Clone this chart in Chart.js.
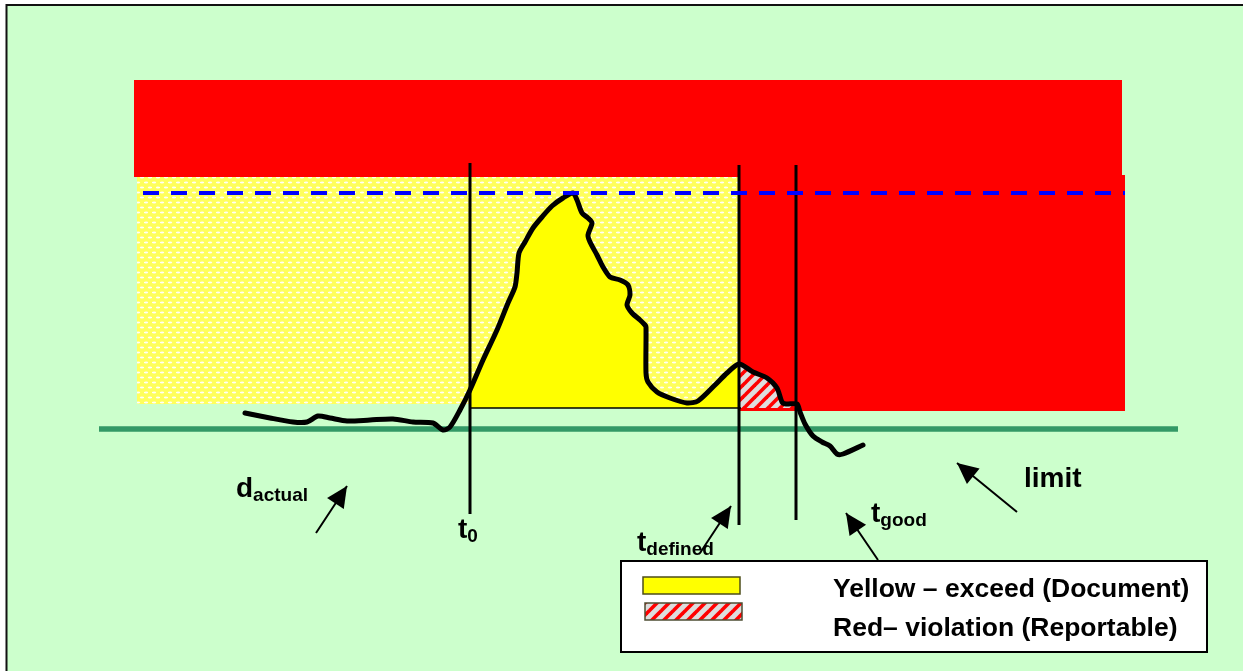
<!DOCTYPE html>
<html>
<head>
<meta charset="utf-8">
<style>
  html, body { margin: 0; padding: 0; background: #ffffff; }
  canvas { display: block; }
</style>
<script src="https://cdn.jsdelivr.net/npm/chart.js@4.4.1/dist/chart.umd.min.js"></script>
</head>
<body>
<canvas id="c" width="1243" height="671"></canvas>
<script>
// ---------------- data (time on x, level on y) ----------------
const curveTime  = [245,270,293,307,318,330,347,370,393,413,433,443,450,460,470,
                    483,497,508,515,517,519,525,533,542,552,563,573,577,582,588,592,588,590,597,603,610,620,628,630,627,632,640,645,646,
                    646,648,657,670,687,698,715,727,739,753,767,777,782,786,797,800,805,813,822,830,837,843,863];
const curveLevel = [258,253,249,249,255,253,250,251,252,249,248,241,244,261,281,
                    311,341,368,384,398,418,429,443,454,465,473,478,471,458,453,448,436,429,416,404,394,391,386,376,366,358,351,346,344,
                    298,289,279,273,268,270,286,298,307,299,293,283,269,267,267,259,247,235,229,225,217,217,226];

const eventTimes   = [470, 739, 796];     // t0, t_defined, t_good
const eventTop     = [508, 506, 506];
const eventBottom  = [157, 146, 151];

const limitTime    = [99, 1178];
const limitLevel   = 242;
const alertTime    = [143, 1125];
const alertLevel   = 478;
const baseLevel    = 263;
const baseTime     = [470, 741];

const exceedZoneX  = [137, 738];
const exceedZoneY  = [267, 494];
const violTopX     = [134, 1122];
const violTopY     = [494, 591];
const violSideX    = [738, 1125];
const violSideY    = [260, 496];

const arrowFromX = [316, 700, 878, 1017];
const arrowFromY = [138, 118, 111, 159];
const arrowToX   = [347, 731, 846, 957];
const arrowToY   = [185, 165, 158, 208];

const labelMain = ['d', 't', 't', 't', 'limit'];
const labelSub  = ['actual', '0', 'defined', 'good', ''];
const labelX    = [236, 458, 637, 871, 1024];
const labelY    = [174, 133, 120, 149, 184];

const legendLabels = ['Yellow \u2013 exceed (Document)', 'Red\u2013 violation (Reportable)'];

// ---------------- helpers ----------------
const FONT = '"Liberation Sans", Arial, Helvetica, sans-serif';
const pts = (xs, ys) => xs.map((x, i) => ({x: x, y: ys[i]}));
const curvePts = pts(curveTime, curveLevel);
const segment = (a, b) => curvePts.filter(p => p.x >= a && p.x <= b);

function dotPattern() {
  const c = document.createElement('canvas');
  c.width = 8; c.height = 10;
  const g = c.getContext('2d');
  g.fillStyle = '#FFFF5C';
  g.fillRect(0, 0, 8, 10);
  g.fillStyle = 'rgba(255,255,255,0.95)';
  [[2, 2.5], [6, 7.5]].forEach(([cx, cy]) => {
    g.beginPath(); g.ellipse(cx, cy, 2.2, 0.9, 0, 0, Math.PI * 2); g.fill();
  });
  return g.createPattern(c, 'repeat');
}
function hatchPattern() {
  const s = 12;
  const c = document.createElement('canvas');
  c.width = s; c.height = s;
  const g = c.getContext('2d');
  g.fillStyle = '#DDDDDD';
  g.fillRect(0, 0, s, s);
  g.strokeStyle = '#FF0000';
  g.lineWidth = 3.6;
  [[0, s, s, 0], [-s/2, s/2, s/2, -s/2], [s/2, s*1.5, s*1.5, s/2]].forEach(([a, b, c2, d]) => {
    g.beginPath(); g.moveTo(a, b); g.lineTo(c2, d); g.stroke();
  });
  return g.createPattern(c, 'repeat');
}
const DOTS = dotPattern();
const HATCH = hatchPattern();

function rectDataset(xs, ys, color, order) {
  return {
    data: [{x: xs[0], y: ys[1]}, {x: xs[1], y: ys[1]}],
    fill: {value: ys[0]}, backgroundColor: color, borderColor: 'transparent',
    borderWidth: 0, pointRadius: 0, tension: 0, order: order
  };
}

const eventData = [];
eventTimes.forEach((t, i) => {
  eventData.push({x: t, y: eventTop[i]}, {x: t, y: eventBottom[i]}, {x: t, y: null});
});
const arrowData = [];
arrowFromX.forEach((x, i) => {
  arrowData.push({x: x, y: arrowFromY[i]}, {x: arrowToX[i], y: arrowToY[i]}, {x: arrowToX[i], y: null});
});

// ---------------- plugins ----------------
const framePlugin = {
  id: 'frame',
  beforeDraw(chart) {
    const ctx = chart.ctx;
    ctx.save();
    ctx.fillStyle = '#ffffff';
    ctx.fillRect(0, 0, chart.width, chart.height);
    ctx.fillStyle = '#CCFFCC';
    ctx.fillRect(6, 4, chart.width - 6, chart.height - 4);
    ctx.strokeStyle = '#111111';
    ctx.lineWidth = 2;
    ctx.beginPath();
    ctx.moveTo(6.5, chart.height); ctx.lineTo(6.5, 5); ctx.lineTo(chart.width, 5);
    ctx.stroke();
    ctx.restore();
  }
};

const annotatePlugin = {
  id: 'annotate',
  afterDraw(chart) {
    const ctx = chart.ctx, xs = chart.scales.x, ys = chart.scales.y;
    ctx.save();
    // arrow heads
    ctx.fillStyle = '#000000';
    arrowFromX.forEach((x, i) => {
      const x0 = xs.getPixelForValue(x), y0 = ys.getPixelForValue(arrowFromY[i]);
      const x1 = xs.getPixelForValue(arrowToX[i]), y1 = ys.getPixelForValue(arrowToY[i]);
      const a = Math.atan2(y1 - y0, x1 - x0), len = 21, hw = 10;
      const bx = x1 - len * Math.cos(a), by = y1 - len * Math.sin(a);
      ctx.beginPath();
      ctx.moveTo(x1, y1);
      ctx.lineTo(bx + hw * Math.sin(a), by - hw * Math.cos(a));
      ctx.lineTo(bx - hw * Math.sin(a), by + hw * Math.cos(a));
      ctx.closePath();
      ctx.fill();
    });
    // labels with subscripts
    ctx.textBaseline = 'alphabetic';
    labelMain.forEach((m, i) => {
      const px = xs.getPixelForValue(labelX[i]), py = ys.getPixelForValue(labelY[i]);
      ctx.font = 'bold 28px ' + FONT;
      ctx.fillText(m, px, py);
      const w = ctx.measureText(m).width;
      if (labelSub[i]) {
        ctx.font = 'bold 19px ' + FONT;
        ctx.fillText(labelSub[i], px + w, py + 4);
      }
    });
    // legend box
    ctx.fillStyle = '#ffffff';
    ctx.fillRect(621, 561, 586, 91);
    ctx.strokeStyle = '#000000';
    ctx.lineWidth = 2;
    ctx.strokeRect(621, 561, 586, 91);
    // swatches
    ctx.lineWidth = 1.5;
    ctx.fillStyle = '#FFFF00';
    ctx.fillRect(643, 577, 97, 17);
    ctx.strokeStyle = '#4d4d1a';
    ctx.strokeRect(643, 577, 97, 17);
    ctx.fillStyle = HATCH;
    ctx.fillRect(645, 603, 97, 17);
    ctx.strokeStyle = '#4d4d33';
    ctx.strokeRect(645, 603, 97, 17);
    // legend text
    ctx.fillStyle = '#000000';
    ctx.font = 'bold 26.5px ' + FONT;
    ctx.fillText(legendLabels[0], 833, 597);
    ctx.fillText(legendLabels[1], 833, 636);
    ctx.restore();
  }
};

// ---------------- chart ----------------
new Chart(document.getElementById('c'), {
  type: 'line',
  data: {
    datasets: [
      rectDataset(exceedZoneX, exceedZoneY, DOTS, 20),
      rectDataset(violTopX, violTopY, '#FF0000', 19),
      rectDataset(violSideX, violSideY, '#FF0000', 18),
      { // limit line
        data: pts(limitTime, [limitLevel, limitLevel]),
        borderColor: '#339966', borderWidth: 5.5, pointRadius: 0, fill: false, order: 16
      },
      { // exceed area
        data: segment(eventTimes[0], eventTimes[1]),
        fill: {value: baseLevel}, backgroundColor: '#FFFF00', borderColor: 'transparent',
        borderWidth: 0, pointRadius: 0, tension: 0.25, order: 15
      },
      { // violation area
        data: segment(eventTimes[1], 797),
        fill: {value: baseLevel}, backgroundColor: HATCH, borderColor: 'transparent',
        borderWidth: 0, pointRadius: 0, tension: 0.25, order: 14
      },
      { // base line
        data: pts(baseTime, [baseLevel, baseLevel]),
        borderColor: '#000000', borderWidth: 1.5, pointRadius: 0, fill: false, order: 13
      },
      { // event markers
        data: eventData, spanGaps: false,
        borderColor: '#000000', borderWidth: 3, pointRadius: 0, fill: false, order: 12
      },
      { // measured curve
        data: curvePts,
        borderColor: '#000000', borderWidth: 5, pointRadius: 0, fill: false,
        tension: 0.25, borderCapStyle: 'round', borderJoinStyle: 'round', order: 11
      },
      { // alert threshold (dashed)
        data: pts(alertTime, [alertLevel, alertLevel]),
        borderColor: '#0000FF', borderWidth: 4, borderDash: [16, 12], pointRadius: 0, fill: false, order: 10
      },
      { // arrows shafts
        data: arrowData, spanGaps: false,
        borderColor: '#000000', borderWidth: 2, pointRadius: 0, fill: false, order: 9
      }
    ]
  },
  options: {
    responsive: false,
    animation: false,
    devicePixelRatio: 1,
    layout: { padding: 0 },
    scales: {
      x: { type: 'linear', min: 0, max: 1243, display: false },
      y: { type: 'linear', min: 0, max: 671, display: false }
    },
    plugins: {
      legend: { display: false },
      tooltip: { enabled: false },
      filler: { propagate: false }
    }
  },
  plugins: [framePlugin, annotatePlugin]
});
</script>
</body>
</html>
